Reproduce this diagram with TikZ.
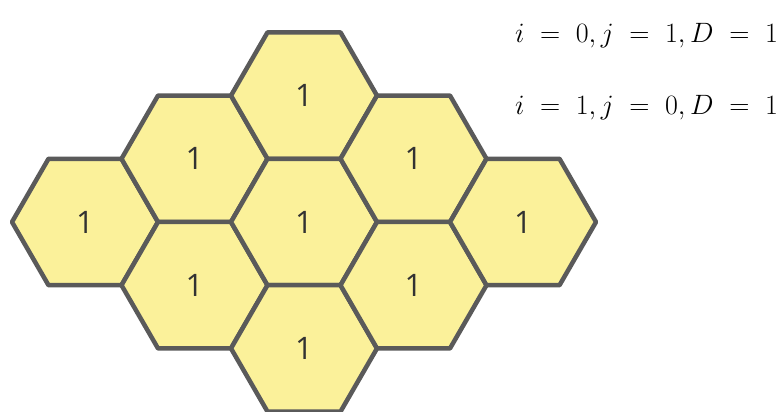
\RequirePackage{fix-cm}
\documentclass[tikz,border=0pt]{standalone}
\usepackage{fontspec}
\usepackage{tikz}
\usetikzlibrary{shapes.geometric, positioning}
\newfontfamily\cellfont{Open Sans}
\definecolor{clrCell}{RGB}{251,241,154}
\definecolor{clrEdge}{RGB}{90,90,90}
\definecolor{clrDigit}{RGB}{50,50,50}

\begin{document}
\begin{tikzpicture}[
  x=1pt, y=1pt,
  hexcell/.style={regular polygon, regular polygon sides=6, draw=clrEdge,
                  fill=clrCell, line width=4.5pt, line join=round,
                  minimum size=146pt, inner sep=0pt, text=clrDigit,
                  font=\cellfont\fontsize{31}{34}\selectfont},
  eqn/.style={anchor=base west, inner sep=0pt,
              font=\fontsize{28}{32}\selectfont}
]
\useasboundingbox[fill=white] (0,0) rectangle (779,412);

% honeycomb, column by column
\node[hexcell] (c0)  at (85,190)     {1};
\node[hexcell] (c1a) at (194.5,253.2) {1};
\node[hexcell] (c1b) at (194.5,126.8) {1};
\node[hexcell] (c2a) at (304,316.4)  {1};
\node[hexcell] (c2b) at (304,190)    {1};
\node[hexcell] (c2c) at (304,63.6)   {1};
\node[hexcell] (c3a) at (413.5,253.2) {1};
\node[hexcell] (c3b) at (413.5,126.8) {1};
\node[hexcell] (c4)  at (523,190)    {1};

% offsets of the two neighbours
\node[eqn] (first)  at (515,369) {$i\;=\;0,j\;=\;1,D\;=\;1$};
\node[eqn] (second) at (515,297) {$i\;=\;1,j\;=\;0,D\;=\;1$};

\end{tikzpicture}
\end{document}
